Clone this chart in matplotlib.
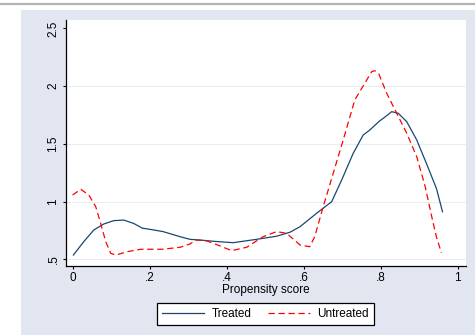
import matplotlib
matplotlib.use("Agg")
import matplotlib.pyplot as plt
from matplotlib.patches import Rectangle
from matplotlib.lines import Line2D

plt.rcParams['font.family'] = ['Liberation Sans', 'DejaVu Sans']

# kernel density of the propensity score, by group
treated_x = [0.002, 0.029, 0.055, 0.081, 0.107, 0.133, 0.159, 0.181, 0.211, 0.235,
             0.279, 0.305, 0.331, 0.37, 0.417, 0.478, 0.53, 0.565, 0.591, 0.634,
             0.673, 0.699, 0.729, 0.755, 0.772, 0.798, 0.807, 0.829, 0.846, 0.868,
             0.894, 0.919, 0.945, 0.961]
treated_y = [0.537, 0.653, 0.754, 0.806, 0.835, 0.84, 0.81, 0.77, 0.754, 0.74,
             0.696, 0.673, 0.667, 0.655, 0.644, 0.673, 0.70, 0.735, 0.783, 0.899,
             0.999, 1.187, 1.419, 1.577, 1.62, 1.70, 1.721, 1.779, 1.765, 1.692,
             1.534, 1.332, 1.115, 0.912]

untreated_x = [0.0, 0.021, 0.042, 0.06, 0.073, 0.086, 0.099, 0.112, 0.142, 0.177,
               0.233, 0.279, 0.305, 0.322, 0.348, 0.38, 0.413, 0.452, 0.495, 0.53,
               0.556, 0.591, 0.616, 0.629, 0.651, 0.677, 0.703, 0.733, 0.759, 0.777,
               0.785, 0.795, 0.816, 0.842, 0.868, 0.894, 0.916, 0.933, 0.945, 0.958]
untreated_y = [1.057, 1.107, 1.057, 0.956, 0.81, 0.653, 0.552, 0.537, 0.566, 0.587,
               0.587, 0.604, 0.633, 0.667, 0.66, 0.62, 0.575, 0.604, 0.696, 0.74,
               0.725, 0.624, 0.609, 0.696, 0.956, 1.245, 1.534, 1.88, 2.025, 2.126,
               2.134, 2.11, 1.938, 1.765, 1.592, 1.389, 1.129, 0.869, 0.696, 0.557]

x_ticks = [0, 0.2, 0.4, 0.6, 0.8, 1.0]
x_labels = ['0', '.2', '.4', '.6', '.8', '1']
y_ticks = [0.5, 1.0, 1.5, 2.0, 2.5]
y_labels = ['.5', '1', '1.5', '2', '2.5']
grid_y = [0.5, 1.0, 1.5, 2.0]

BG = '#e1e6f0'
NAVY = '#1a476f'

fig = plt.figure(figsize=(4.75, 3.35), dpi=100, facecolor='white')
# graph region background and the thin rule above it
fig.patches.append(Rectangle((21 / 475, 0), 1, 1 - 10 / 335, transform=fig.transFigure,
                             facecolor=BG, edgecolor='none', zorder=-10))
fig.add_artist(Line2D([0, 1], [1 - 4 / 335, 1 - 4 / 335], transform=fig.transFigure,
                      color='#b4b4b4', lw=1.6))

ax = fig.add_axes([65.7 / 475, 1 - 266 / 335, (466 - 65.7) / 475, (266 - 20) / 335])
ax.set_zorder(2)
ax.set_facecolor('white')

for g in grid_y:
    ax.axhline(g, color='#e6eef0', lw=0.8, zorder=1)

ax.plot(treated_x, treated_y, color=NAVY, lw=0.9, zorder=3, label='Treated')
ax.plot(untreated_x, untreated_y, color='#ff0000', lw=0.9, linestyle=(0, (5, 3)),
        zorder=3, label='Untreated')

ax.set_xlim(-0.018, 1.022)
ax.set_ylim(0.442, 2.573)

ax.set_xticks(x_ticks)
ax.set_xticklabels(x_labels)
ax.set_yticks(y_ticks)
ax.set_yticklabels(y_labels, rotation=90, va='center')
ax.tick_params(direction='out', length=2.5, width=0.8, labelsize=8.5, pad=2)

for side in ['top', 'right']:
    ax.spines[side].set_visible(False)
for side in ['left', 'bottom']:
    ax.spines[side].set_linewidth(0.9)

ax.set_xlabel('Propensity score', fontsize=8.5, labelpad=0)

leg = fig.legend(loc='center', bbox_to_anchor=(265.5 / 475, 1 - 314 / 335), ncol=2,
                 fontsize=8.5, frameon=True, fancybox=False, framealpha=1,
                 edgecolor='black', handlelength=3.6, handletextpad=0.6,
                 columnspacing=1.4, borderpad=0.45)
leg.set_zorder(3)
leg.get_frame().set_linewidth(0.9)

fig.savefig('out.png', dpi=100, facecolor='white')
